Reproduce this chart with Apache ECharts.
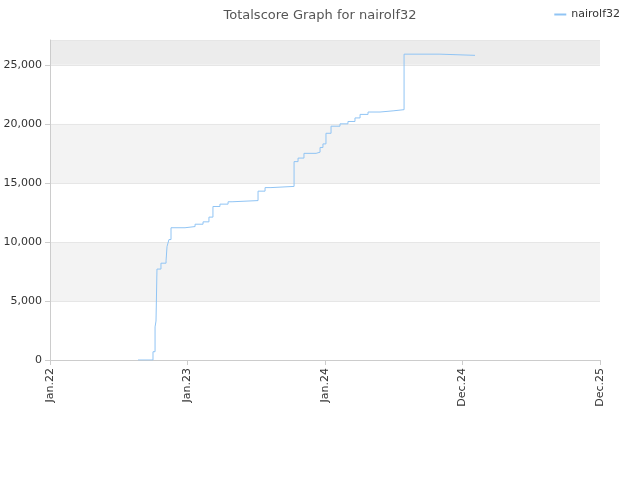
<!DOCTYPE html>
<html><head><meta charset="utf-8">
<script src="https://cdn.jsdelivr.net/npm/echarts@6/dist/echarts.min.js"></script>
<style>html,body{margin:0;padding:0}#c{width:640px;height:480px}</style>
</head><body><div id="c"></div>
<script>
const tickLabels = ['Jan.22','Jan.23','Jan.24','Dec.24','Dec.25'];
const xs = [0.64,0.749,0.764,0.771,0.778,0.807,0.844,0.851,0.865,0.88,0.982,1.055,1.113,1.156,1.185,1.236,1.295,1.324,1.513,1.564,1.607,1.775,1.804,1.847,1.935,1.964,1.985,2.007,2.044,2.109,2.167,2.218,2.255,2.313,2.4,2.495,2.575,2.836,3.091];
const ys = [0,700,2800,3300,7700,8200,8400,9600,10200,11200,11300,11500,11700,12100,13000,13200,13400,13500,14300,14600,14700,16800,17100,17500,17600,18000,18300,19200,19800,20000,20200,20500,20800,21000,21100,21200,25900,25800,25800];
const chart = echarts.init(document.getElementById('c'));
chart.setOption({
  animation:false,
  title:{text:'Totalscore Graph for nairolf32',left:'center',top:4,textStyle:{fontSize:13,fontWeight:'normal',color:'#555',fontFamily:'DejaVu Sans'}},
  legend:{right:15,top:4,itemWidth:12,itemHeight:2,icon:'rect',textStyle:{fontSize:11,color:'#333',fontFamily:'DejaVu Sans'},data:['nairolf32']},
  grid:{left:50,right:40,top:40,bottom:120},
  xAxis:{type:'value',min:0,max:4,interval:1,
    axisLabel:{rotate:90,fontSize:11,color:'#333',fontFamily:'DejaVu Sans',formatter:v=>tickLabels[v]},
    axisLine:{lineStyle:{color:'#ccc'}},axisTick:{show:true,lineStyle:{color:'#ccc'}},splitLine:{show:false}},
  yAxis:{type:'value',min:0,max:27100,interval:5000,
    axisLabel:{fontSize:11,color:'#333',fontFamily:'DejaVu Sans',showMaxLabel:false},
    axisLine:{show:true,lineStyle:{color:'#ccc'}},
    splitLine:{show:true,lineStyle:{color:'#e6e6e6'}},
    splitArea:{show:true,areaStyle:{color:['#ffffff','#f3f3f3','#ffffff','#f3f3f3','#ffffff','#ececec']}}},
  series:[{name:'nairolf32',type:'line',step:'end',showSymbol:false,
    lineStyle:{color:'#90c4f4',width:1},itemStyle:{color:'#90c4f4'},
    data:xs.map((x,i)=>[x,ys[i]])}]
});
</script></body></html>
